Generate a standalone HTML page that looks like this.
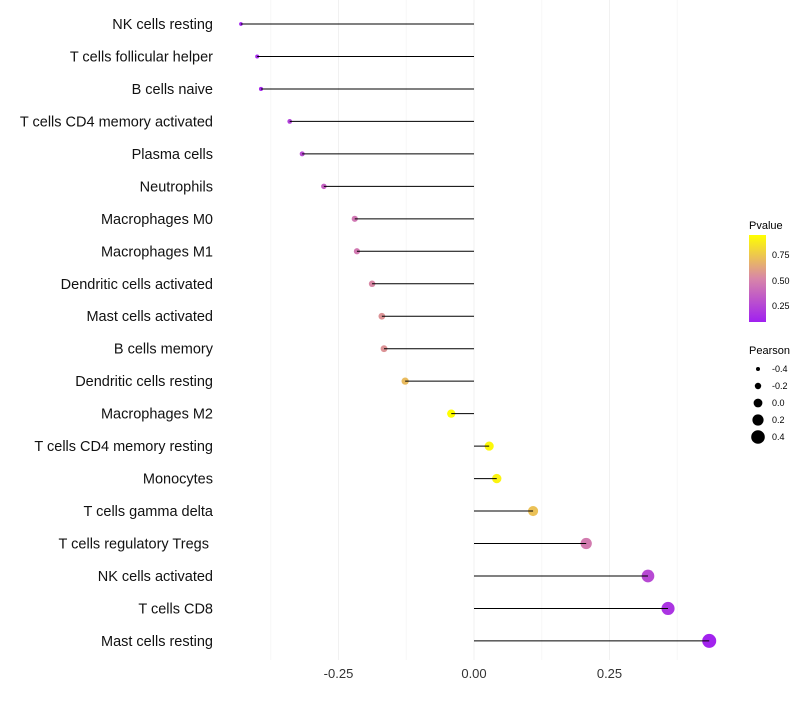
<!DOCTYPE html>
<html><head><meta charset="utf-8"><style>
body{margin:0;background:#fff;font-family:"Liberation Sans",sans-serif}
</style></head><body>
<svg id="c" width="800" height="700" xmlns="http://www.w3.org/2000/svg">
<defs><linearGradient id="g" x1="0" y1="1" x2="0" y2="0">
<stop offset="0" stop-color="#a020f0"/><stop offset="0.5" stop-color="#d886a8"/><stop offset="1" stop-color="#ffff00"/></linearGradient></defs>
<g id="grid"></g><g id="marks"></g><g id="labels"></g>
<g>
<text x="749" y="229" font-size="11">Pvalue</text>
<rect x="749" y="235" width="17" height="87" fill="url(#g)"/>
<text x="772" y="258" font-size="9">0.75</text><text x="772" y="284" font-size="9">0.50</text><text x="772" y="309" font-size="9">0.25</text>
</g>
<g id="sl">
<text x="749" y="354" font-size="11">Pearson</text>
</g>
</svg>
<script>
const cats=["NK cells resting","T cells follicular helper","B cells naive","T cells CD4 memory activated","Plasma cells","Neutrophils","Macrophages M0","Macrophages M1","Dendritic cells activated","Mast cells activated","B cells memory","Dendritic cells resting","Macrophages M2","T cells CD4 memory resting","Monocytes","T cells gamma delta","T cells regulatory  Tregs\u00a0","NK cells activated","T cells CD8","Mast cells resting"];
const pearson=[-0.43,-0.40,-0.393,-0.34,-0.317,-0.277,-0.22,-0.216,-0.188,-0.17,-0.166,-0.127,-0.042,0.028,0.042,0.109,0.207,0.321,0.358,0.434];
const pvalue=[0.09,0.12,0.12,0.22,0.27,0.36,0.45,0.46,0.52,0.56,0.56,0.7,0.94,0.92,0.9,0.72,0.47,0.26,0.17,0.1];
const xticks=[-0.25,0,0.25];
const xtickLabels=["-0.25","0.00","0.25"];
const sizeLegend=[-0.4,-0.2,0.0,0.2,0.4];
const NS="http://www.w3.org/2000/svg";
const X=v=>474+v*542;
const Y=i=>24+i*32.47;
const R=p=>1.7+(p+0.45)*6;
function col(p){const t=Math.max(0,Math.min(1,(p-0.088)/(0.94-0.088)));
 const a=[160,32,240],m=[216,134,168],b=[255,255,0];let c;
 if(t<0.5){const s=t/0.5;c=a.map((v,k)=>v+(m[k]-v)*s);}else{const s=(t-0.5)/0.5;c=m.map((v,k)=>v+(b[k]-v)*s);}
 return `rgb(${c.map(Math.round).join(',')})`;}
function mk(t,at,p){const e=document.createElementNS(NS,t);for(const k in at)e.setAttribute(k,at[k]);p.appendChild(e);return e;}
const grid=document.getElementById('grid'),marks=document.getElementById('marks'),labels=document.getElementById('labels');
[-0.375,-0.125,0.125,0.375].forEach(v=>{const l=mk('line',{x1:X(v),x2:X(v),y1:0,y2:660,stroke:'#f7f7f7','stroke-width':1},grid);

});
xticks.forEach((v,i)=>{const l=mk('line',{x1:X(v),x2:X(v),y1:0,y2:660,stroke:'#f1f1f1','stroke-width':1},grid);


const t=mk('text',{x:X(v),y:678,'font-size':13,'text-anchor':'middle',fill:'#333'},labels);t.textContent=xtickLabels[i];

});
cats.forEach((c,i)=>{
 const ci=mk('circle',{cx:X(pearson[i]),cy:Y(i),r:R(pearson[i]),fill:col(pvalue[i])},marks);
 
 
 const l=mk('line',{x1:X(0),x2:X(pearson[i]),y1:Y(i),y2:Y(i),stroke:'#000','stroke-width':1},marks);
 
 
 const t=mk('text',{x:213,y:Y(i)+5,'font-size':14.5,'text-anchor':'end',fill:'#111'},labels);t.textContent=c;
 
 
});
const sl=document.getElementById('sl');
sizeLegend.forEach((v,i)=>{const y=369+i*17;
 const c=mk('circle',{cx:758,cy:y,r:R(v),fill:'#000'},sl);
 
 
 const t=mk('text',{x:772,y:y+3,'font-size':9},sl);t.textContent=v.toFixed(1);
 
 });
</script>
</body></html>
